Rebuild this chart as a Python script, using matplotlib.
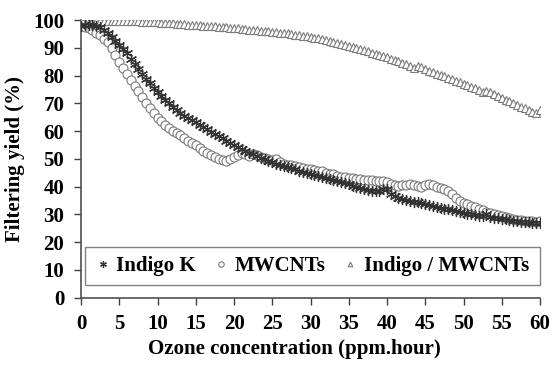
import matplotlib
matplotlib.use('Agg')
import matplotlib.pyplot as plt
from matplotlib.patches import Rectangle
import numpy as np

# ============ DATA (step 0.5 ppm.hour) ============
x = np.arange(0, 60.01, 0.5)

indigo_k = [98.0, 98.2, 98.3, 98.3, 98.0, 97.5, 96.5, 95.2, 93.8, 92.4,
            91.0, 89.6, 88.0, 86.0, 84.2, 82.5, 80.6, 78.9, 77.3, 75.6,
            74.0, 72.6, 71.3, 70.0, 68.8, 67.6, 66.5, 65.6, 64.7, 64.0,
            63.2, 62.3, 61.4, 60.6, 59.8, 59.0, 58.2, 57.4, 56.6, 55.8,
            55.0, 54.3, 53.6, 52.9, 52.2, 51.6, 51.0, 50.4, 49.8, 49.3,
            48.8, 48.3, 47.8, 47.4, 47.0, 46.6, 46.2, 45.8, 45.4, 45.0,
            44.6, 44.3, 44.0, 43.6, 43.2, 42.8, 42.4, 42.0, 41.6, 41.2,
            40.8, 40.4, 40.0, 39.6, 39.2, 38.9, 38.6, 38.4, 38.6, 39.3,
            39.0, 37.5, 36.5, 36.0, 35.6, 35.2, 34.9, 34.6, 34.3, 34.0,
            33.6, 33.3, 33.0, 32.7, 32.4, 32.1, 31.8, 31.5, 31.2, 30.9,
            30.6, 30.3, 30.0, 29.8, 29.6, 29.4, 30.0, 29.0, 28.8, 28.6,
            28.4, 28.2, 28.0, 27.8, 27.6, 27.4, 27.2, 27.1, 27.0, 26.9,
            26.8]

mwcnts = [98.5, 97.5, 97.0, 96.3, 95.5, 94.5, 93.3, 92.0, 90.0, 87.5,
          85.0, 82.8, 80.5, 78.3, 76.3, 74.3, 72.3, 70.3, 68.3, 66.5,
          64.8, 63.5, 62.3, 61.2, 60.2, 59.3, 58.5, 57.5, 56.5, 55.8,
          55.0, 54.0, 53.0, 52.0, 51.3, 50.5, 50.0, 49.5, 49.3, 49.8,
          50.5, 51.3, 52.0, 51.6, 51.2, 51.6, 51.3, 50.8, 50.3, 50.0,
          49.6, 49.8, 49.0, 48.3, 47.8, 47.8, 47.4, 47.0, 46.8, 46.5,
          46.2, 46.0, 45.8, 45.5, 45.0, 44.6, 44.4, 44.0, 43.6, 43.3,
          43.2, 43.0, 42.8, 42.6, 42.5, 42.4, 42.3, 42.2, 42.0, 41.9,
          41.5, 41.0, 40.6, 40.3, 40.5, 40.7, 41.0, 40.6, 40.2, 40.0,
          40.5, 40.8, 40.5, 40.0, 39.6, 39.0, 38.5, 37.2, 36.0, 35.0,
          34.2, 33.6, 33.0, 32.5, 32.0, 31.5, 31.0, 30.6, 30.2, 29.8,
          29.4, 29.0, 28.7, 28.4, 28.1, 28.0, 27.8, 27.6, 27.5, 27.4,
          27.6]

indigo_mwcnts = [98.8, 99.1, 99.3, 99.4, 99.5, 99.5, 99.6, 99.6, 99.6, 99.6,
                 99.6, 99.6, 99.6, 99.5, 99.5, 99.5, 99.4, 99.4, 99.3, 99.3,
                 99.2, 99.1, 99.0, 98.9, 98.8, 98.7, 98.6, 98.5, 98.4, 98.3,
                 98.2, 98.1, 98.0, 97.9, 97.8, 97.7, 97.6, 97.5, 97.4, 97.3,
                 97.2, 97.0, 96.9, 96.8, 96.6, 96.5, 96.4, 96.2, 96.1, 95.9,
                 95.8, 95.7, 95.5, 95.4, 95.2, 95.0, 94.8, 94.6, 94.4, 94.2,
                 94.0, 93.7, 93.4, 93.1, 92.8, 92.5, 92.2, 91.8, 91.5, 91.1,
                 90.7, 90.3, 89.9, 89.5, 89.1, 88.7, 88.3, 87.9, 87.5, 87.0,
                 86.6, 86.1, 85.6, 85.1, 84.5, 84.0, 83.4, 82.8, 83.6, 83.0,
                 82.3, 81.8, 81.2, 80.7, 80.2, 79.7, 79.2, 78.7, 78.2, 77.6,
                 77.1, 76.5, 76.0, 75.4, 74.8, 74.2, 74.6, 74.0, 73.3, 72.6,
                 72.0, 71.3, 70.7, 70.0, 69.4, 68.8, 68.2, 67.6, 67.0, 66.5,
                 67.5]

labels = ['Indigo K', 'MWCNTs', 'Indigo / MWCNTs']

# ============ PLOT ============
plt.rcParams['font.family'] = ['Liberation Serif', 'DejaVu Serif']
plt.rcParams['font.weight'] = 'bold'
FS = 15

fig = plt.figure(figsize=(5.53, 3.65), dpi=100)
ax = fig.add_axes([0.1465, 0.1844, 0.83, 0.7606])

ax.plot(x, indigo_mwcnts, linestyle='none', marker='^', markersize=5.5,
        markerfacecolor='white', markeredgecolor='#7a7a7a', markeredgewidth=0.8,
        label=labels[2], zorder=2)
ax.plot(x, mwcnts, linestyle='none', marker='o', markersize=6.5,
        markerfacecolor='white', markeredgecolor='#7a7a7a', markeredgewidth=0.8,
        label=labels[1], zorder=3)
ax.plot(x, indigo_k, linestyle='none', marker=(6, 2, 0), markersize=8,
        markeredgecolor='#333333', markeredgewidth=0.9,
        label=labels[0], zorder=4)

ax.set_xlim(0, 60)
ax.set_ylim(0, 100)
ax.set_xticks(range(0, 61, 5))
ax.set_yticks(range(0, 101, 10))
ax.tick_params(direction='out', length=5, width=1, color='#404040',
               labelsize=FS, pad=7)
for lab in ax.get_xticklabels() + ax.get_yticklabels():
    lab.set_fontweight('bold')
for s in ['top', 'right']:
    ax.spines[s].set_visible(False)
for s in ['left', 'bottom']:
    ax.spines[s].set_color('#505050')
    ax.spines[s].set_linewidth(1.2)

ax.set_xlabel('Ozone concentration (ppm.hour)', fontsize=FS, fontweight='bold')
ax.xaxis.set_label_coords(0.464, -0.15)
ax.set_ylabel('Filtering yield (%)', fontsize=FS, fontweight='bold', labelpad=6)

h, l = ax.get_legend_handles_labels()
order = [2, 1, 0]
leg = ax.legend([h[i] for i in order], [l[i] for i in order], ncol=3,
                loc='center', bbox_to_anchor=(0.505, 0.114),
                frameon=False, handlelength=0.6, handletextpad=0.35,
                markerscale=0.6, borderpad=0, columnspacing=0.9,
                prop={'weight': 'bold', 'size': FS})
# legend frame box
ax.add_patch(Rectangle((0.0087, 0.0457), 0.9913, 0.137, transform=ax.transAxes,
                       fill=True, facecolor='white', edgecolor='#808080',
                       linewidth=1.0, zorder=4.5, clip_on=False))
leg.set_zorder(5)

fig.savefig('out.png', dpi=100)
